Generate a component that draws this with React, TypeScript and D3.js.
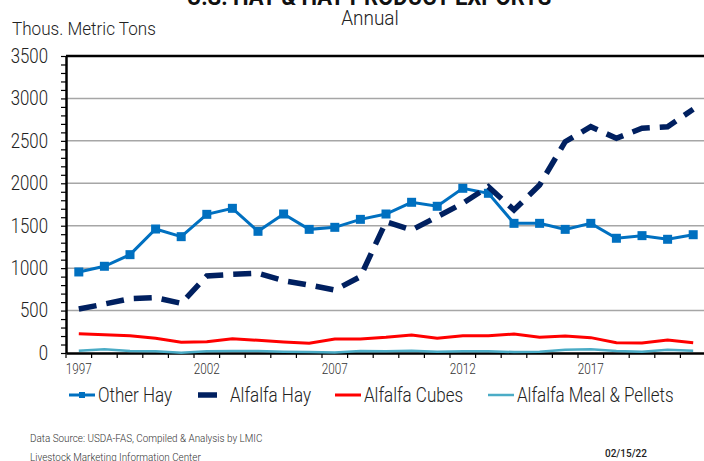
import { useEffect, useRef } from 'react';
import * as d3 from 'd3';

const years = d3.range(1997, 2022);
const tickYears = [1997, 2002, 2007, 2012, 2017];
const yTicks = [0, 500, 1000, 1500, 2000, 2500, 3000, 3500];

const otherHay = [955, 1022, 1159, 1461, 1371, 1634, 1705, 1434, 1638, 1457, 1481, 1575, 1638,
  1776, 1729, 1941, 1882, 1528, 1528, 1457, 1528, 1352, 1383, 1340, 1394];
const alfalfaHay = [518, 577, 640, 652, 585, 907, 927, 939, 852, 801, 742, 899, 1547,
  1449, 1606, 1764, 1960, 1685, 1980, 2490, 2667, 2530, 2648, 2667, 2872];
const alfalfaCubes = [228, 216, 204, 173, 126, 133, 169, 149, 130, 114, 165, 165, 185,
  212, 173, 204, 204, 224, 185, 200, 181, 122, 118, 153, 122];
const mealPellets = [27, 43, 24, 20, 4, 20, 24, 24, 16, 12, 5, 24, 20,
  27, 16, 20, 20, 12, 16, 37, 43, 24, 16, 37, 27];

const seriesNames = ['Other Hay', 'Alfalfa Hay', 'Alfalfa Cubes', 'Alfalfa Meal & Pellets'];

const FONT = "Roboto, 'Liberation Sans', sans-serif";
const SQ = 0.84; // horizontal squeeze, the source font is a condensed one

// condensed text helper
function Txt(props: {
  x: number; y: number; size: number; anchor?: string; weight?: string | number; fill?: string;
  sx?: number; children: string;
}) {
  const { x, y, size, anchor = 'start', weight = 300, fill = '#222', sx = SQ, children } = props;
  return (
    <text
      transform={`translate(${x},${y}) scale(${sx},1)`}
      textAnchor={anchor}
      fontFamily={FONT}
      fontWeight={weight}
      fontSize={size}
      fill={fill}
    >
      {children}
    </text>
  );
}

export default function App() {
  const gRef = useRef<SVGGElement>(null);

  useEffect(() => {
    if (!gRef.current) return;
    const svg = d3.select(gRef.current);
    svg.selectAll('*').remove();

    const left = 66;
    const right = 706;
    const top = 56;
    const bottom = 353;

    const x = d3.scaleBand<number>().domain(years).range([left, right]);
    const cx = (yr: number) => (x(yr) ?? 0) + x.bandwidth() / 2;
    const y = d3.scaleLinear().domain([0, 3500]).range([bottom, top]);

    // gridlines
    svg
      .append('g')
      .selectAll('line')
      .data(yTicks.slice(1, -1))
      .enter()
      .append('line')
      .attr('x1', left)
      .attr('x2', right)
      .attr('y1', (d) => y(d))
      .attr('y2', (d) => y(d))
      .attr('stroke', '#a6a6a6')
      .attr('stroke-width', 1.5);

    // top border
    svg
      .append('line')
      .attr('x1', left)
      .attr('x2', right)
      .attr('y1', top)
      .attr('y2', top)
      .attr('stroke', '#000')
      .attr('stroke-width', 2.5);

    // y axis
    const yAxis = svg
      .append('g')
      .attr('transform', `translate(${left},0)`)
      .call(
        d3
          .axisLeft(y)
          .tickValues(d3.range(0, 3501, 100))
          .tickSize(5)
          .tickSizeOuter(0)
          .tickFormat((d) => ((d as number) % 500 === 0 ? String(d) : '')),
      );
    yAxis.select('.domain').attr('stroke-width', 2.5);
    yAxis.selectAll('line').attr('stroke-width', 1.2);
    yAxis
      .selectAll<SVGTextElement, number>('text')
      .attr('x', null)
      .attr('transform', `translate(-18,0) scale(${SQ},1)`)
      .style('font-family', FONT)
      .style('font-size', '20px')
      .style('font-weight', 300)
      .attr('fill', '#222');

    // x axis
    const xAxis = svg
      .append('g')
      .attr('transform', `translate(0,${bottom})`)
      .call(d3.axisBottom(x).tickValues([]).tickSizeOuter(0));
    xAxis.select('.domain').attr('stroke-width', 2.5);
    xAxis
      .selectAll('.tk')
      .data(years)
      .enter()
      .append('line')
      .attr('x1', (d) => x(d) ?? 0)
      .attr('x2', (d) => x(d) ?? 0)
      .attr('y1', 0)
      .attr('y2', 5)
      .attr('stroke', '#000')
      .attr('stroke-width', 1.2);
    xAxis
      .selectAll('.lbl')
      .data(tickYears)
      .enter()
      .append('text')
      .attr('transform', (d) => `translate(${cx(d)},21) scale(${SQ},1)`)
      .attr('text-anchor', 'middle')
      .style('font-family', FONT)
      .style('font-size', '14px')
      .style('font-weight', 300)
      .attr('fill', '#333')
      .text((d) => d);

    const line = d3
      .line<number>()
      .x((_, i) => cx(years[i]))
      .y((d) => y(d));

    svg
      .append('path')
      .datum(mealPellets)
      .attr('fill', 'none')
      .attr('stroke', '#4bacc6')
      .attr('stroke-width', 2.5)
      .attr('d', line);

    svg
      .append('path')
      .datum(alfalfaCubes)
      .attr('fill', 'none')
      .attr('stroke', '#ff0000')
      .attr('stroke-width', 3)
      .attr('d', line);

    svg
      .append('path')
      .datum(otherHay)
      .attr('fill', 'none')
      .attr('stroke', '#0070c0')
      .attr('stroke-width', 3)
      .attr('d', line);

    svg
      .selectAll('.dot')
      .data(otherHay)
      .enter()
      .append('rect')
      .attr('x', (_, i) => cx(years[i]) - 4.5)
      .attr('y', (d) => y(d) - 4.5)
      .attr('width', 9)
      .attr('height', 9)
      .attr('fill', '#0070c0');

    svg
      .append('path')
      .datum(alfalfaHay)
      .attr('fill', 'none')
      .attr('stroke', '#002060')
      .attr('stroke-width', 5.5)
      .attr('stroke-dasharray', '18,10')
      .attr('d', line);

    // legend
    const lg = svg.append('g').attr('transform', 'translate(0,395)');
    const legendX = [69, 198, 335, 488];
    const legendTextX = [98, 230, 364, 517];
    const legendW = [26, 19, 26, 26];
    const colors = ['#0070c0', '#002060', '#ff0000', '#4bacc6'];
    const widths = [3, 5.5, 3, 2.5];
    seriesNames.forEach((name, i) => {
      lg.append('line')
        .attr('x1', legendX[i])
        .attr('x2', legendX[i] + legendW[i])
        .attr('y1', 0)
        .attr('y2', 0)
        .attr('stroke', colors[i])
        .attr('stroke-width', widths[i]);
      if (i === 0) {
        lg.append('rect')
          .attr('x', legendX[i] + legendW[i] / 2 - 3)
          .attr('y', -3)
          .attr('width', 6)
          .attr('height', 6)
          .attr('fill', colors[i]);
      }
      lg.append('text')
        .attr('transform', `translate(${legendTextX[i]},7) scale(0.85,1)`)
        .style('font-family', FONT)
        .style('font-size', '20px')
        .style('font-weight', 300)
        .attr('fill', '#222')
        .text(name);
    });
  }, []);

  return (
    <svg
      width={704}
      height={461}
      style={{ position: 'absolute', left: 0, top: 0, background: '#fff' }}
    >
      <Txt x={369} y={5} size={24} sx={0.92} anchor="middle" weight="bold" fill="#111">
        U.S. HAY &amp; HAY PRODUCT EXPORTS
      </Txt>
      <Txt x={370} y={25} size={20} sx={0.95} anchor="middle">Annual</Txt>
      <Txt x={12} y={35} size={18} sx={0.95}>Thous. Metric Tons</Txt>
      <g ref={gRef} />
      <Txt x={30} y={442} size={11} sx={0.9} fill="#333">Data Source:  USDA-FAS, Compiled &amp; Analysis by LMIC</Txt>
      <Txt x={30} y={461} size={11} sx={0.9} fill="#333">Livestock Marketing Information Center</Txt>
      <Txt x={605} y={457} size={10} sx={1} weight={500} fill="#222">02/15/22</Txt>
    </svg>
  );
}
